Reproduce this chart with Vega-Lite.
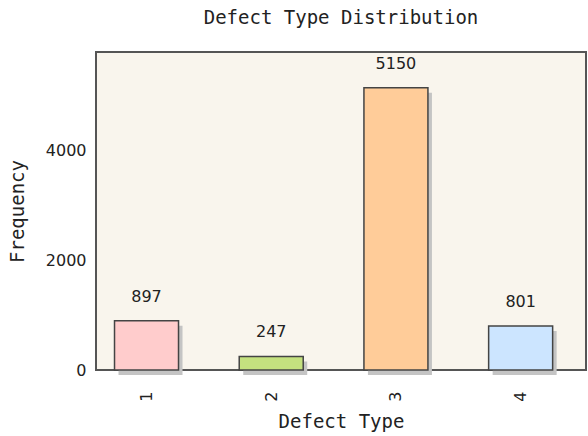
{
  "$schema": "https://vega.github.io/schema/vega-lite/v6.json",
  "autosize": "none",
  "width": 490,
  "height": 318,
  "padding": {"left": 96, "top": 52, "right": 2, "bottom": 66},
  "background": "white",
  "title": {
    "text": "Defect Type Distribution",
    "font": "DejaVu Sans Mono",
    "fontSize": 19,
    "fontWeight": "normal",
    "color": "#222222",
    "anchor": "middle",
    "offset": 24
  },
  "config": {
    "view": {"fill": "#f9f5ed", "stroke": "#555555", "strokeWidth": 2},
    "axis": {"domain": false, "grid": false}
  },
  "data": {
    "values": [
      {"type": 1, "count": 897, "color": "#ffcccc"},
      {"type": 2, "count": 247, "color": "#c4e17f"},
      {"type": 3, "count": 5150, "color": "#ffcc99"},
      {"type": 4, "count": 801, "color": "#cce5ff"}
    ]
  },
  "encoding": {
    "x": {
      "field": "type",
      "type": "quantitative",
      "scale": {"domain": [0.635, 4.484], "nice": false, "zero": false},
      "axis": {
        "title": "Defect Type",
        "values": [1, 2, 3, 4],
        "format": "d",
        "labelAngle": -90,
        "labelFont": "DejaVu Sans",
        "labelFontSize": 16,
        "labelColor": "#222222",
        "labelPadding": 21,
        "tickSize": 0,
        "titleFont": "DejaVu Sans Mono",
        "titleFontSize": 19,
        "titleFontWeight": "normal",
        "titleColor": "#222222",
        "titlePadding": 11
      }
    },
    "y": {
      "field": "count",
      "type": "quantitative",
      "scale": {"domain": [0, 5800], "nice": false},
      "axis": {
        "title": "Frequency",
        "values": [0, 2000, 4000],
        "format": "d",
        "labelFont": "DejaVu Sans",
        "labelFontSize": 16,
        "labelColor": "#222222",
        "labelPadding": 10,
        "tickSize": 0,
        "titleFont": "DejaVu Sans Mono",
        "titleFontSize": 19,
        "titleFontWeight": "normal",
        "titleColor": "#222222",
        "titlePadding": 18
      }
    }
  },
  "layer": [
    {
      "mark": {"type": "bar", "size": 64, "color": "#c4c4c4", "xOffset": 4, "yOffset": 5, "clip": false}
    },
    {
      "mark": {"type": "bar", "size": 64, "stroke": "#444444", "strokeWidth": 1.5},
      "encoding": {
        "color": {"field": "color", "type": "nominal", "scale": null}
      }
    },
    {
      "mark": {"type": "text", "dy": -16, "baseline": "bottom", "font": "DejaVu Sans", "fontSize": 16, "color": "#222222"},
      "encoding": {"text": {"field": "count", "type": "quantitative"}}
    }
  ]
}
